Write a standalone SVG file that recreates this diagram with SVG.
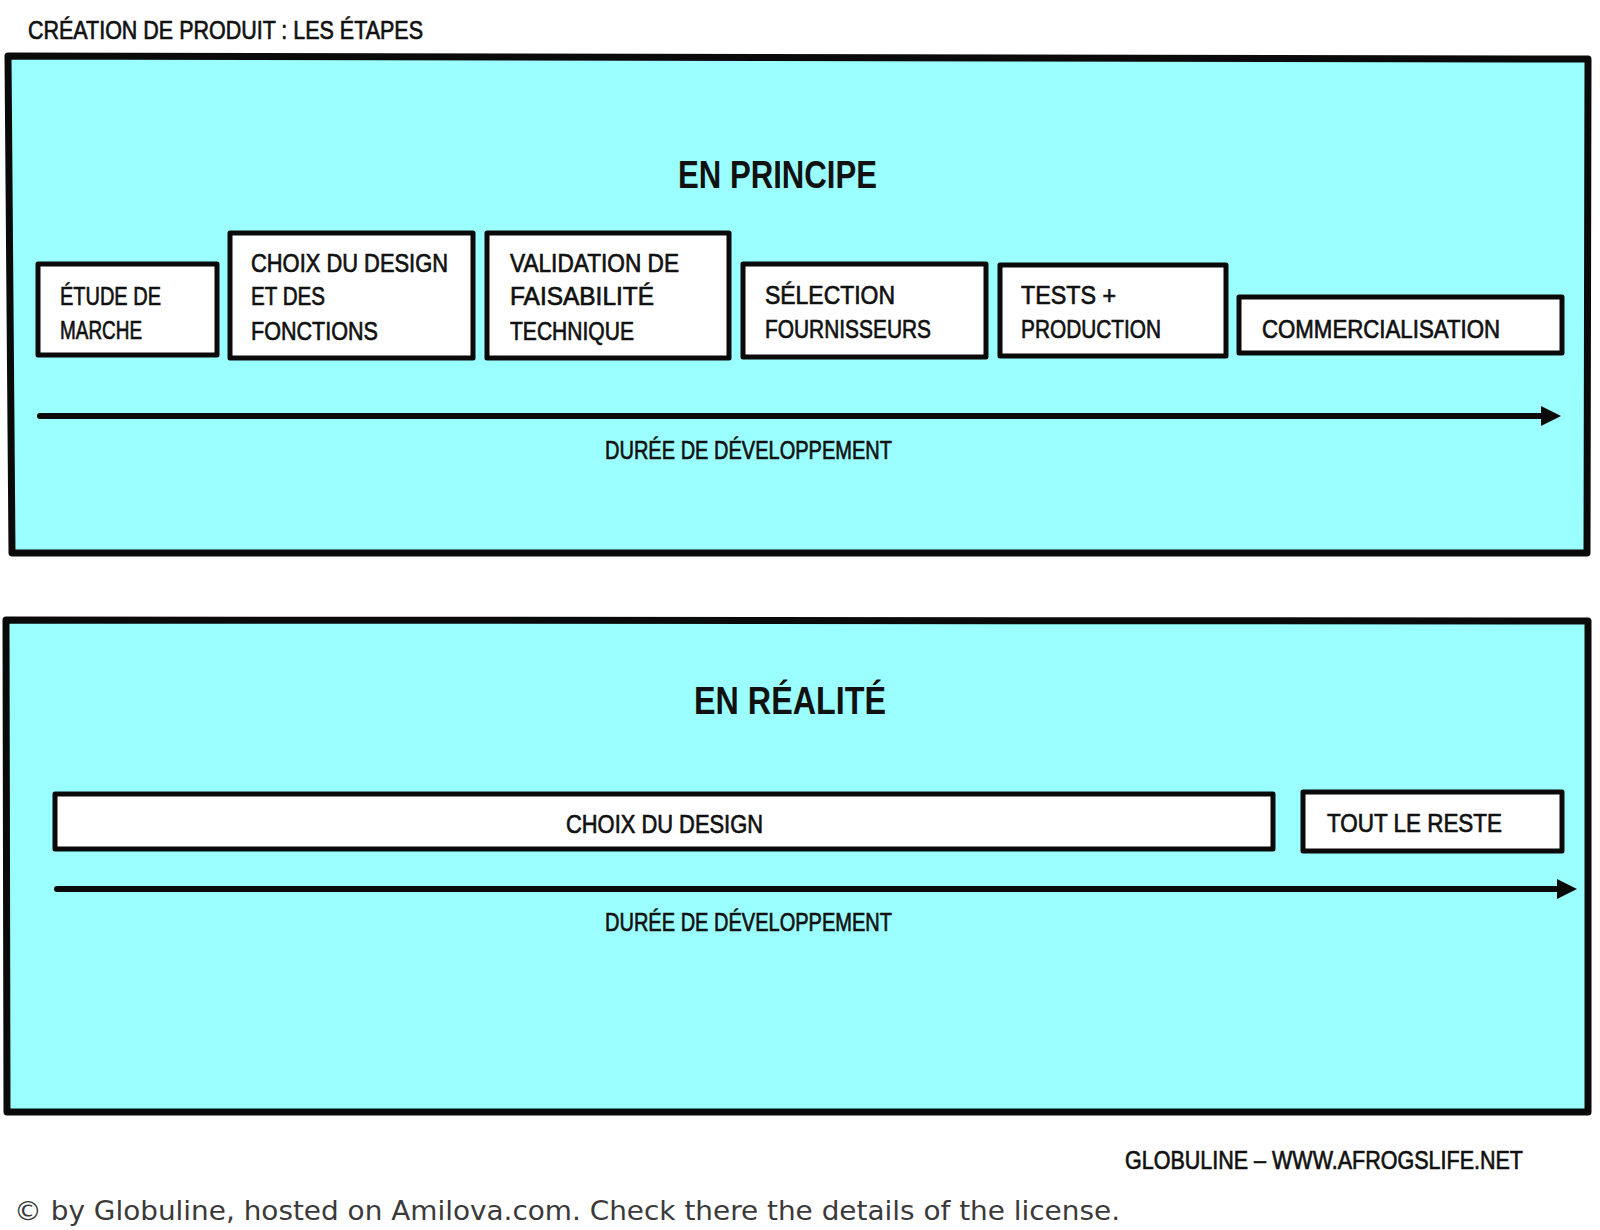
<svg xmlns="http://www.w3.org/2000/svg" width="1600" height="1230" viewBox="0 0 1600 1230">
  <style>
    .panel { fill: #9bffff; stroke: #0a0a0a; stroke-width: 7; stroke-linejoin: round; }
    .box { fill: #ffffff; stroke: #0a0a0a; stroke-width: 5; stroke-linejoin: round; }
    .t { font-family: "Liberation Sans", "DejaVu Sans", sans-serif; font-size: 26px; fill: #111111; stroke: #111111; stroke-width: 0.7; }
    .h { font-family: "Liberation Sans", "DejaVu Sans", sans-serif; font-size: 38px; font-weight: bold; fill: #111111; }
    .c { font-family: "DejaVu Sans", "Liberation Sans", sans-serif; font-size: 27px; fill: #3a3a3a; }
    .axis { stroke: #0a0a0a; stroke-width: 6; stroke-linecap: round; fill: none; }
  </style>
  <defs>
    <marker id="arrow" markerUnits="userSpaceOnUse" markerWidth="24" markerHeight="22" refX="4" refY="11" orient="auto">
      <path d="M0,1 L20,11 L0,21 Z" fill="#0a0a0a"/>
    </marker>
  </defs>
  <rect x="0" y="0" width="1600" height="1230" fill="#ffffff"/>

  <g id="title">
    <text class="t" x="28" y="39" textLength="395" lengthAdjust="spacingAndGlyphs">CRÉATION DE PRODUIT : LES ÉTAPES</text>
  </g>

  <g id="panel-principe">
    <path class="panel" d="M8,56 L1588,59 L1587,553 L12,553 Z"/>
    <text class="h" x="678" y="188" textLength="199" lengthAdjust="spacingAndGlyphs">EN PRINCIPE</text>
  </g>

  <g id="panel-realite">
    <path class="panel" d="M6,620 L1588,621 L1588,1112 L7,1112 Z"/>
    <text class="h" x="694" y="714" textLength="192" lengthAdjust="spacingAndGlyphs">EN RÉALITÉ</text>
  </g>

  <g id="node-etude">
    <rect class="box" x="38" y="264" width="179" height="91"/>
    <text class="t" x="60" y="305" textLength="101" lengthAdjust="spacingAndGlyphs">ÉTUDE DE</text>
    <text class="t" x="60" y="339" textLength="82" lengthAdjust="spacingAndGlyphs">MARCHE</text>
  </g>

  <g id="node-choix">
    <rect class="box" x="230" y="233" width="243" height="125"/>
    <text class="t" x="251" y="272" textLength="197" lengthAdjust="spacingAndGlyphs">CHOIX DU DESIGN</text>
    <text class="t" x="251" y="305" textLength="74" lengthAdjust="spacingAndGlyphs">ET DES</text>
    <text class="t" x="251" y="340" textLength="127" lengthAdjust="spacingAndGlyphs">FONCTIONS</text>
  </g>

  <g id="node-validation">
    <rect class="box" x="487" y="233" width="242" height="125"/>
    <text class="t" x="510" y="272" textLength="169" lengthAdjust="spacingAndGlyphs">VALIDATION DE</text>
    <text class="t" x="510" y="305" textLength="144" lengthAdjust="spacingAndGlyphs">FAISABILITÉ</text>
    <text class="t" x="510" y="340" textLength="124" lengthAdjust="spacingAndGlyphs">TECHNIQUE</text>
  </g>

  <g id="node-selection">
    <rect class="box" x="743" y="264" width="243" height="93"/>
    <text class="t" x="765" y="304" textLength="130" lengthAdjust="spacingAndGlyphs">SÉLECTION</text>
    <text class="t" x="765" y="338" textLength="166" lengthAdjust="spacingAndGlyphs">FOURNISSEURS</text>
  </g>

  <g id="node-tests">
    <rect class="box" x="1000" y="265" width="226" height="91"/>
    <text class="t" x="1021" y="304" textLength="95" lengthAdjust="spacingAndGlyphs">TESTS +</text>
    <text class="t" x="1021" y="338" textLength="140" lengthAdjust="spacingAndGlyphs">PRODUCTION</text>
  </g>

  <g id="node-commercialisation">
    <rect class="box" x="1239" y="297" width="323" height="56"/>
    <text class="t" x="1262" y="338" textLength="238" lengthAdjust="spacingAndGlyphs">COMMERCIALISATION</text>
  </g>

  <g id="node-choix-design">
    <rect class="box" x="55" y="794" width="1218" height="55"/>
    <text class="t" x="566" y="833" textLength="197" lengthAdjust="spacingAndGlyphs">CHOIX DU DESIGN</text>
  </g>

  <g id="node-tout-le-reste">
    <rect class="box" x="1303" y="792" width="259" height="59"/>
    <text class="t" x="1327" y="832" textLength="175" lengthAdjust="spacingAndGlyphs">TOUT LE RESTE</text>
  </g>

  <g id="connectors">
    <line class="axis" x1="40" y1="416" x2="1545" y2="416" marker-end="url(#arrow)"/>
    <text class="t" x="605" y="459" textLength="287" lengthAdjust="spacingAndGlyphs">DURÉE DE DÉVELOPPEMENT</text>
    <line class="axis" x1="57" y1="889" x2="1561" y2="889" marker-end="url(#arrow)"/>
    <text class="t" x="605" y="931" textLength="287" lengthAdjust="spacingAndGlyphs">DURÉE DE DÉVELOPPEMENT</text>
  </g>

  <g id="credits">
    <text class="t" x="1125" y="1169" textLength="398" lengthAdjust="spacingAndGlyphs">GLOBULINE – WWW.AFROGSLIFE.NET</text>
    <text class="c" x="14" y="1220" textLength="1106" lengthAdjust="spacingAndGlyphs">© by Globuline, hosted on Amilova.com. Check there the details of the license.</text>
  </g>
</svg>
